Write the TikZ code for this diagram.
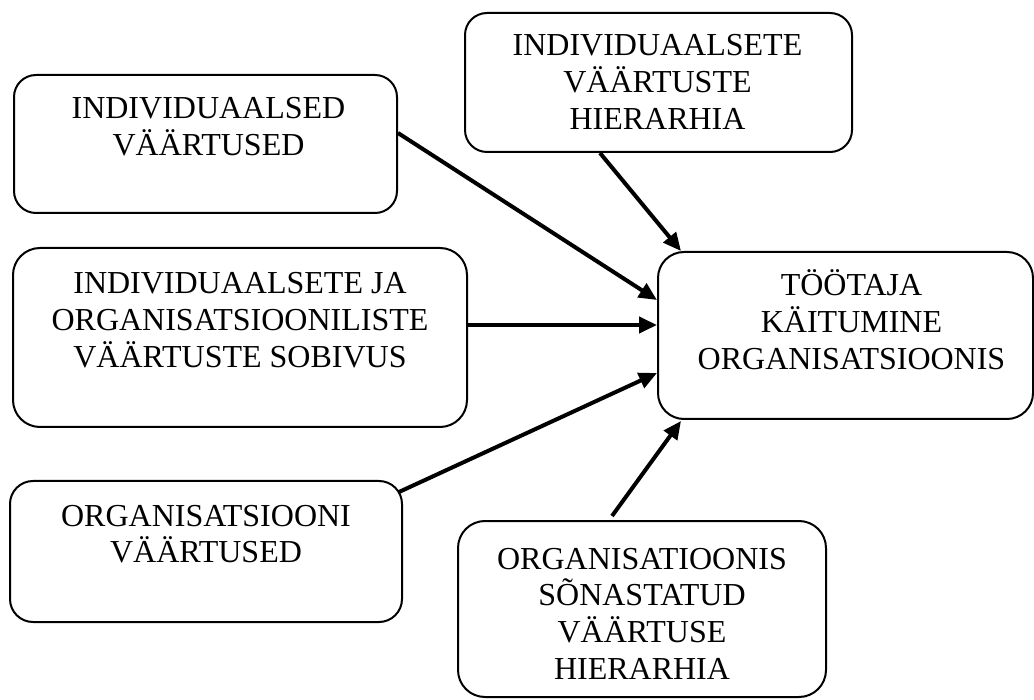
\documentclass[tikz,border=0pt]{standalone}
\usepackage{fontspec}
\setmainfont{Liberation Serif}
\usetikzlibrary{arrows.meta}

\begin{document}
\begin{tikzpicture}[x=1pt,y=-1pt,
  box/.style={draw=black, line width=2pt, fill=white, inner sep=0pt},
  txt/.style={font=\fontsize{32}{36.8}\selectfont, align=center, inner sep=0pt, anchor=base},
  link/.style={line width=4pt, -{Triangle[length=18pt,width=16pt]}}
]
\useasboundingbox (0,0) rectangle (1034,700);

% boxes (centre, size, corner radius)
\node[box, rounded corners=22pt, minimum width=383pt, minimum height=138pt] (A) at (205.5,144) {};
\node[box, rounded corners=22pt, minimum width=387pt, minimum height=139pt] (B) at (658.5,82.5) {};
\node[box, rounded corners=27pt, minimum width=454pt, minimum height=179pt] (C) at (240,337.5) {};
\node[box, rounded corners=26pt, minimum width=375pt, minimum height=167pt] (D) at (845.5,335.5) {};
\node[box, rounded corners=23pt, minimum width=392pt, minimum height=141pt] (E) at (206,551.5) {};
\node[box, rounded corners=27pt, minimum width=368pt, minimum height=176pt] (F) at (642,609) {};

% labels: the base anchor sits on the last line, so each shift reaches down to it
\node[txt] (tA) at ([xshift=3pt,yshift=-81.8pt]A.north) {INDIVIDUAALSED\\VÄÄRTUSED};
\node[txt] (tB) at ([xshift=-1pt,yshift=-117.6pt]B.north) {INDIVIDUAALSETE\\VÄÄRTUSTE\\HIERARHIA};
\node[txt] (tC) at ([yshift=-120.6pt]C.north) {INDIVIDUAALSETE JA\\ORGANISATSIOONILISTE\\VÄÄRTUSTE SOBIVUS};
\node[txt] (tD) at ([xshift=6pt,yshift=-118.6pt]D.north) {TÖÖTAJA\\KÄITUMINE\\ORGANISATSIOONIS};
\node[txt] (tE) at ([yshift=-82.8pt]E.north) {ORGANISATSIOONI\\VÄÄRTUSED};
\node[txt] (tF) at ([yshift=-159.4pt]F.north) {ORGANISATIOONIS\\SÕNASTATUD\\VÄÄRTUSE\\HIERARHIA};

% influences on the employee's behaviour
\draw[link] ([yshift=11pt]A.east) -- ([yshift=35.5pt]D.west);
\draw[link] ([xshift=-58.5pt]B.south) -- ([xshift=24pt]D.north west);
\draw[link] ([yshift=12.5pt]C.east) -- ([yshift=10.5pt]D.west);
\draw[link] ([xshift=-4pt,yshift=-12pt]E.north east) -- ([yshift=-37.5pt]D.west);
\draw[link] ([xshift=-30pt,yshift=4pt]F.north) -- ([xshift=24pt,yshift=-1pt]D.south west);
\end{tikzpicture}
\end{document}
